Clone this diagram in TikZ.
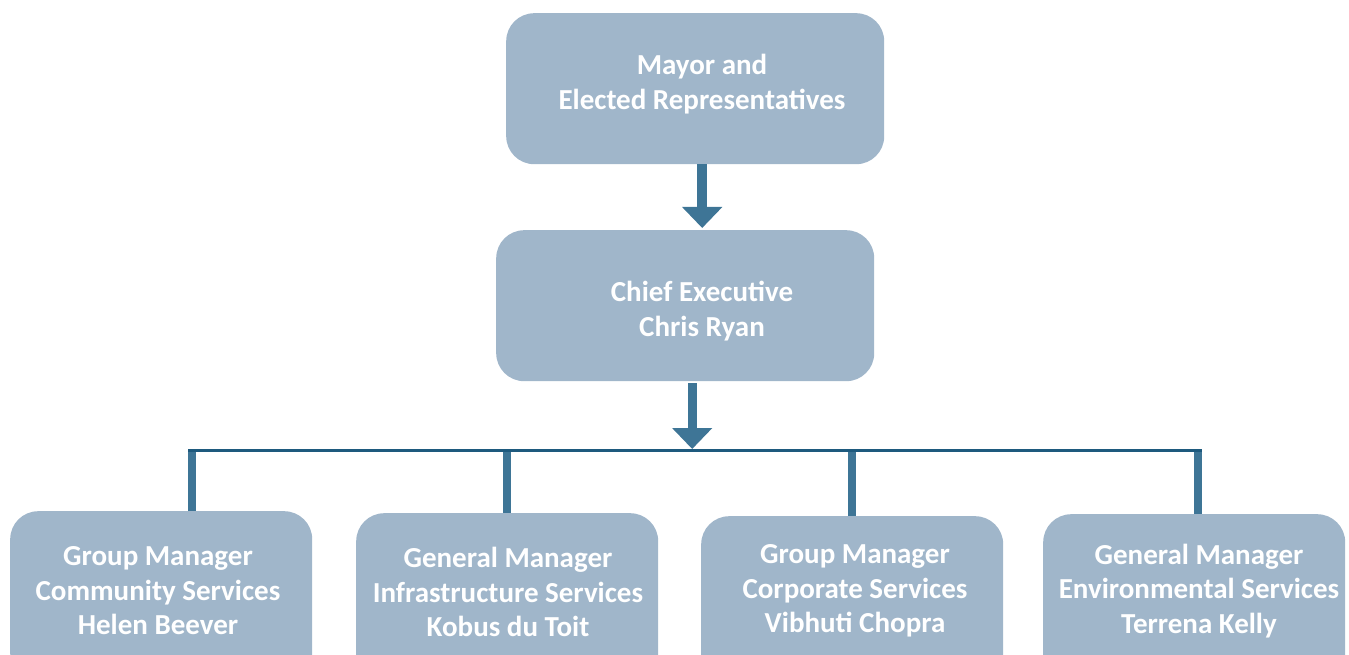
\documentclass[tikz,border=0pt]{standalone}
\usepackage{fontspec}
\setmainfont{Carlito}
\usetikzlibrary{arrows.meta}
\definecolor{boxfill}{HTML}{A0B6CA}
\definecolor{arrowcol}{HTML}{3E7596}
\definecolor{buscol}{HTML}{1E5A7E}
\begin{document}
\begin{tikzpicture}[x=1pt,y=-1pt,
  box/.style={draw=none, fill=boxfill, rounded corners=28pt, inner sep=0pt, anchor=north west},
  topbox/.style={box, minimum width=378pt, minimum height=151pt},
  botbox/.style={box, minimum width=302pt, minimum height=170pt},
  lbl/.style={text=white, font=\bfseries\fontsize{29}{34.5}\selectfont, align=center, inner sep=0pt},
  arr/.style={draw=arrowcol, line width=10pt, -{Triangle[length=21pt,width=39pt]}},
  drop/.style={draw=arrowcol, line width=8pt},
  bus/.style={draw=buscol, line width=3pt}]
\useasboundingbox (0,0) rectangle (1349,655);
\clip (0,0) rectangle (1349,655);
% boxes
\node[topbox] (mayor) at (506,13) {};
\node[topbox] (chief) at (496,230) {};
\node[botbox] (b1) at (10,511) {};
\node[botbox] (b2) at (356,513) {};
\node[botbox] (b3) at (701,516) {};
\node[botbox] (b4) at (1043,514) {};
% labels
\node[lbl] (mayorlbl) at (702,84) {Mayor and\\Elected Representatives};
\node[lbl] (chieflbl) at (702,311) {Chief Executive\\Chris Ryan};
\node[lbl] (b1lbl) at (158,591) {Group Manager\\Community Services\\Helen Beever};
\node[lbl] (b2lbl) at (508,592) {General Manager\\Infrastructure Services\\Kobus du Toit};
\node[lbl] (b3lbl) at (855,591) {Group Manager\\Corporate Services\\Vibhuti Chopra};
\node[lbl] (b4lbl) at (1199,591) {General Manager\\Environmental Services\\Terrena Kelly};
% bus
\coordinate (busL) at (188,450);
\coordinate (busR) at (1202,450);
\draw[drop] ([xshift=31pt]b1.north) -- ([xshift=31pt]b1.north |- busL);
\draw[drop] (b2.north) -- (b2.north |- busL);
\draw[drop] (b3.north) -- (b3.north |- busL);
\draw[drop] ([xshift=4pt]b4.north) -- ([xshift=4pt]b4.north |- busL);
\draw[bus] (busL) -- (busR);
% arrows
\draw[arr, shorten >=2pt] ([xshift=7pt]mayor.south) -- ([xshift=7pt]mayor.south |- chief.north);
\draw[arr, line width=9pt, shorten <=2pt, shorten >=1pt] ([xshift=7pt]chief.south) -- ([xshift=7pt]chief.south |- busL);
\end{tikzpicture}
\end{document}
